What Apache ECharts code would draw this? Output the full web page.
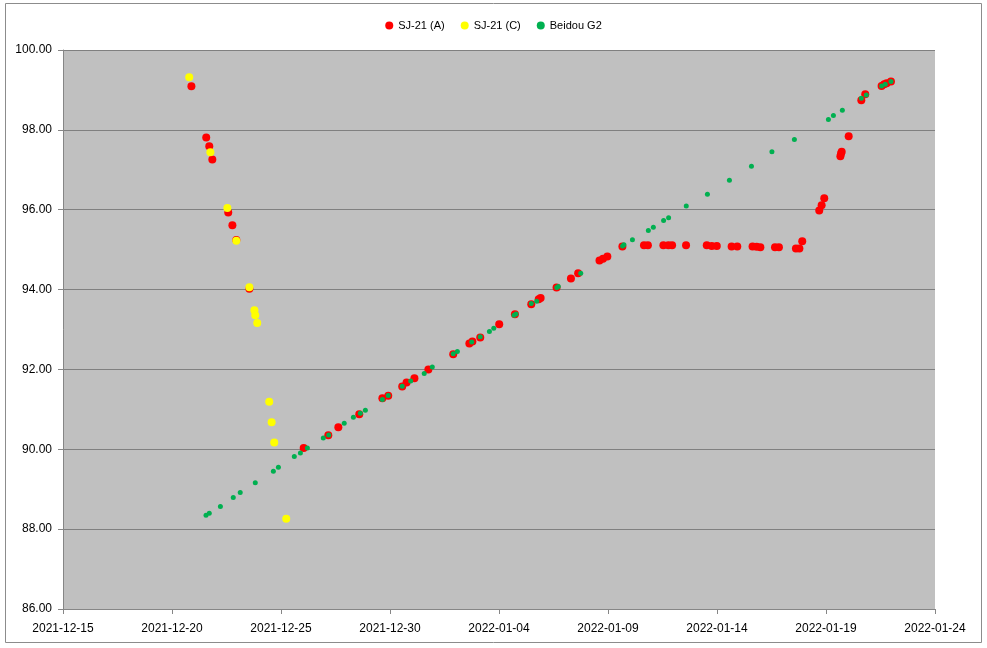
<!DOCTYPE html>
<html>
<head>
<meta charset="utf-8">
<script src="https://cdn.jsdelivr.net/npm/echarts@6/dist/echarts.min.js"></script>
<style>
html,body{margin:0;padding:0;background:#fff;}
#c{width:987px;height:648px;}
</style>
</head>
<body>
<div id="c"></div>
<script>
// x values: days since 2021-12-15 (fractional), y values: degrees
var seriesNames = ['SJ-21 (A)', 'SJ-21 (C)', 'Beidou G2'];
var sj21A = [
[5.89,99.09],[6.57,97.81],[6.71,97.59],[6.85,97.26],[7.58,95.93],[7.77,95.61],[7.95,95.24],[8.55,94.02],
[11.04,90.03],[12.17,90.35],[12.63,90.55],[13.59,90.88],[14.65,91.28],[14.92,91.34],[15.56,91.57],[15.76,91.67],
[16.12,91.78],[16.76,92.00],[17.90,92.38],[18.64,92.65],[18.78,92.70],[19.14,92.80],[20.01,93.13],[20.73,93.38],
[21.48,93.63],[21.82,93.76],[21.91,93.79],[22.64,94.05],[23.30,94.28],[23.63,94.41],[24.61,94.73],[24.77,94.77],
[24.97,94.83],[25.66,95.08],[26.65,95.11],[26.83,95.11],[27.54,95.11],[27.77,95.11],[27.94,95.11],[28.58,95.11],
[29.53,95.11],[29.76,95.09],[29.99,95.09],[30.67,95.08],[30.93,95.08],[31.63,95.08],[31.82,95.07],[31.99,95.06],
[32.66,95.06],[32.84,95.06],[33.62,95.03],[33.78,95.03],[33.91,95.21],[34.69,95.98],[34.80,96.11],[34.92,96.29],
[35.66,97.34],[35.69,97.41],[35.72,97.45],[36.04,97.84],[36.62,98.74],[36.80,98.89],[37.55,99.10],[37.67,99.14],
[37.78,99.17],[37.98,99.21]
];
var sj21C = [
[5.79,99.32],[6.76,97.44],[7.54,96.04],[7.95,95.22],[8.55,94.06],[8.78,93.48],[8.82,93.36],[8.91,93.16],
[9.46,91.19],[9.57,90.68],[9.69,90.17],[10.24,88.26]
];
var beidouG2 = [
[6.56,88.35],[6.71,88.40],[7.22,88.57],[7.81,88.79],[8.13,88.92],[8.82,89.16],[9.65,89.45],[9.88,89.55],
[10.61,89.82],[10.89,89.91],[11.21,90.03],[11.94,90.28],[12.19,90.36],[12.90,90.65],[13.32,90.80],[13.64,90.90],
[13.87,90.98],[14.65,91.25],[14.92,91.35],[15.56,91.58],[15.95,91.71],[16.57,91.90],[16.94,92.06],[17.90,92.39],
[18.09,92.45],[18.75,92.69],[19.14,92.82],[19.56,92.95],[19.76,93.03],[20.69,93.36],[20.78,93.39],[21.48,93.65],
[21.73,93.71],[22.65,94.05],[22.72,94.08],[23.75,94.41],[25.67,95.09],[25.73,95.12],[26.12,95.25],[26.85,95.48],
[27.08,95.56],[27.55,95.73],[27.78,95.80],[28.59,96.09],[29.56,96.39],[30.57,96.74],[31.58,97.09],[32.52,97.45],
[33.55,97.76],[35.11,98.26],[35.34,98.36],[35.75,98.49],[36.62,98.79],[36.85,98.87],[37.55,99.10],[37.72,99.14],
[37.98,99.21]
];
var baseDateUTC = Date.UTC(2021, 11, 15);
var xMin = 0, xMax = 40, xInterval = 5;
var yMin = 86, yMax = 100, yInterval = 2;

function pad(n){return (n<10?'0':'')+n;}
function dayLabel(v){
  var d = new Date(baseDateUTC + Math.round(v) * 86400000);
  return d.getUTCFullYear() + '-' + pad(d.getUTCMonth()+1) + '-' + pad(d.getUTCDate());
}

var font = 'Liberation Sans, Arial, sans-serif';
var chart = echarts.init(document.getElementById('c'), null, {renderer:'canvas'});
chart.setOption({
  animation: false,
  backgroundColor: '#ffffff',
  textStyle: {fontFamily: font},
  graphic: [{
    type: 'rect', silent: true, z: -10,
    shape: {x: 5.5, y: 3.5, width: 976, height: 639},
    style: {fill: 'none', stroke: '#8c8c8c', lineWidth: 1}
  }],
  legend: {
    top: 15, left: 'center',
    itemWidth: 8, itemHeight: 8, itemGap: 16, itemTextGap: 3,
    icon: 'circle',
    textStyle: {fontFamily: font, fontSize: 11, color: '#000'},
    data: seriesNames
  },
  grid: {left: 63, right: 52, top: 50, bottom: 39, containLabel: false,
         show: true, backgroundColor: '#c0c0c0', borderWidth: 0},
  xAxis: {
    type: 'value', min: xMin, max: xMax, interval: xInterval,
    axisLine: {show: true, onZero: false, lineStyle: {color: '#868686', width: 1}},
    axisTick: {show: true, length: 5, inside: false, lineStyle: {color: '#868686'}},
    axisLabel: {formatter: dayLabel, color: '#000', fontSize: 12, fontFamily: font, margin: 14},
    splitLine: {show: false}
  },
  yAxis: {
    type: 'value', min: yMin, max: yMax, interval: yInterval,
    axisLine: {show: true, lineStyle: {color: '#868686', width: 1}},
    axisTick: {show: true, length: 5, inside: false, lineStyle: {color: '#868686'}},
    axisLabel: {formatter: function(v){return v.toFixed(2);}, color: '#000', fontSize: 12, fontFamily: font, margin: 11},
    splitLine: {show: true, lineStyle: {color: '#808080', width: 1}}
  },
  series: [
    {name: seriesNames[0], type: 'scatter', data: sj21A, symbol: 'circle', symbolSize: 8,
     itemStyle: {color: '#ff0000', opacity: 1}, z: 2},
    {name: seriesNames[1], type: 'scatter', data: sj21C, symbol: 'circle', symbolSize: 8,
     itemStyle: {color: '#ffff00', opacity: 1}, z: 3},
    {name: seriesNames[2], type: 'scatter', data: beidouG2, symbol: 'circle', symbolSize: 5,
     itemStyle: {color: '#00b050', opacity: 1}, z: 4}
  ]
});
</script>
</body>
</html>
